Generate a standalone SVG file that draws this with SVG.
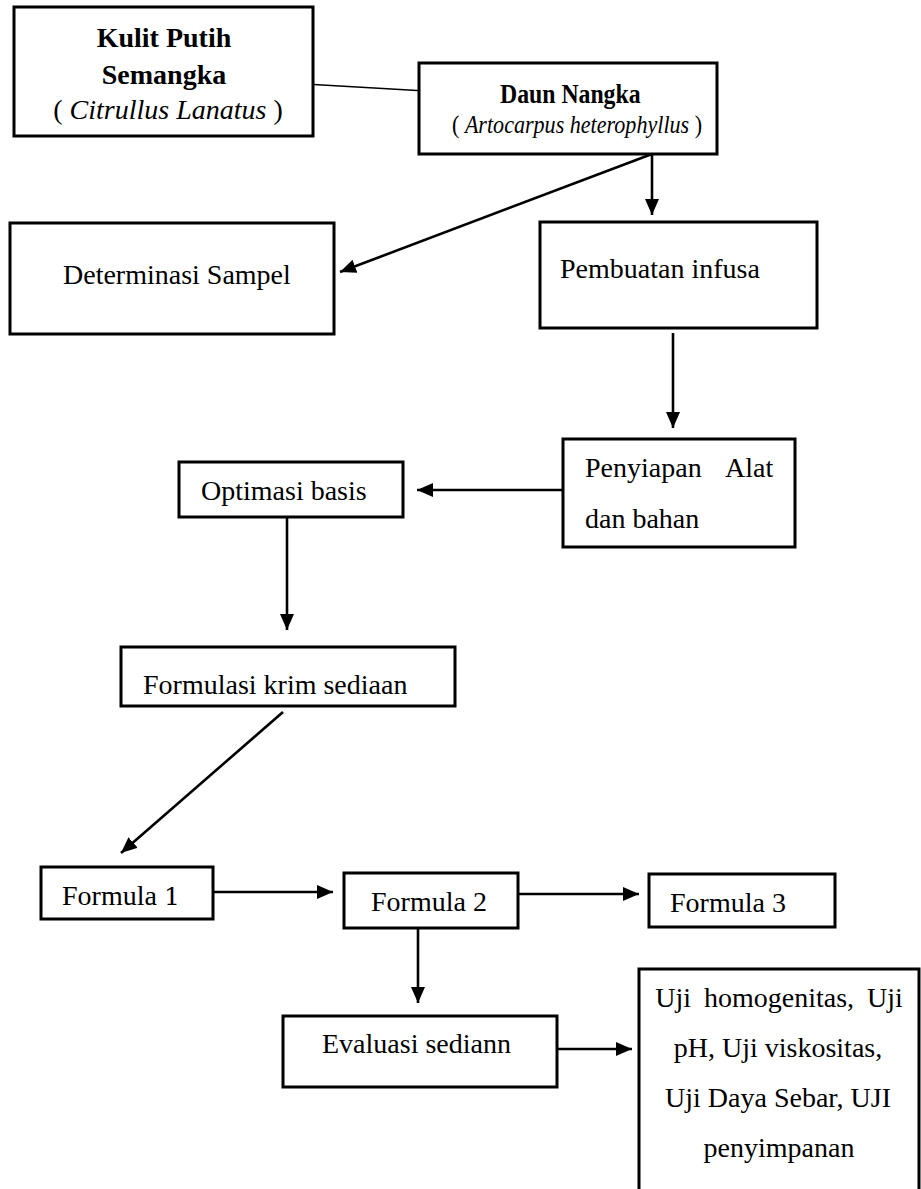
<svg xmlns="http://www.w3.org/2000/svg" width="921" height="1189" viewBox="0 0 921 1189">
<style>
.box{fill:#fff;stroke:#000;stroke-width:3}
.t{font-family:"Liberation Serif","Times New Roman",serif;font-size:28px;fill:#000}
.b{font-weight:bold}
.i{font-style:italic}
.c{text-anchor:middle}
.ln{stroke:#000;stroke-width:2.6;fill:none}
.thin{stroke:#000;stroke-width:1.3;fill:none}
</style>
<defs>
<marker id="ah" viewBox="0 0 16 14" refX="16" refY="7" markerWidth="16" markerHeight="14" markerUnits="userSpaceOnUse" orient="auto">
<path d="M0,0 L16,7 L0,14 Z" fill="#000"/>
</marker>
</defs>
<rect width="921" height="1189" fill="#fff"/>
<g id="connectors">
<line class="thin" x1="305" y1="84" x2="426" y2="91"/>
<line class="ln" x1="652" y1="154" x2="652" y2="215" marker-end="url(#ah)"/>
<line class="ln" x1="652" y1="154" x2="340" y2="272" marker-end="url(#ah)"/>
<line class="ln" x1="673" y1="333" x2="673" y2="428" marker-end="url(#ah)"/>
<line class="ln" x1="563" y1="490" x2="417" y2="490" marker-end="url(#ah)"/>
<line class="ln" x1="287" y1="517" x2="287" y2="630" marker-end="url(#ah)"/>
<line class="ln" x1="283" y1="712" x2="121" y2="853" marker-end="url(#ah)"/>
<line class="ln" x1="213" y1="892" x2="333" y2="892" marker-end="url(#ah)"/>
<line class="ln" x1="518" y1="894" x2="639" y2="894" marker-end="url(#ah)"/>
<line class="ln" x1="418" y1="928" x2="418" y2="1003" marker-end="url(#ah)"/>
<line class="ln" x1="557" y1="1049" x2="632" y2="1049" marker-end="url(#ah)"/>
</g>
<g id="kulit">
<rect class="box" x="14" y="7" width="299" height="129"/>
<text class="t b c" x="164" y="47">Kulit Putih</text>
<text class="t b c" x="164" y="84">Semangka</text>
<text class="t c" x="168" y="119">( <tspan class="i">Citrullus Lanatus</tspan> )</text>
</g>
<g id="daun">
<rect class="box" x="419" y="63" width="298" height="91"/>
<text class="t b" transform="translate(500,103) scale(0.88,1)" style="font-size:27px">Daun Nangka</text>
<text class="t" transform="translate(452,133) scale(0.85,1)" style="font-size:26px">( <tspan class="i">Artocarpus heterophyllus</tspan> )</text>
</g>
<g id="determinasi">
<rect class="box" x="10" y="223" width="324" height="111"/>
<text class="t" x="63" y="284">Determinasi Sampel</text>
</g>
<g id="pembuatan">
<rect class="box" x="540" y="222" width="277" height="106"/>
<text class="t" x="560" y="278">Pembuatan infusa</text>
</g>
<g id="penyiapan">
<rect class="box" x="563" y="439" width="232" height="108"/>
<text class="t" x="585" y="477">Penyiapan</text>
<text class="t" x="725" y="477">Alat</text>
<text class="t" x="585" y="528">dan bahan</text>
</g>
<g id="optimasi">
<rect class="box" x="179" y="462" width="224" height="55"/>
<text class="t" x="201" y="500">Optimasi basis</text>
</g>
<g id="formulasi">
<rect class="box" x="121" y="647" width="334" height="59"/>
<text class="t" x="143" y="694">Formulasi krim sediaan</text>
</g>
<g id="formula1">
<rect class="box" x="41" y="867" width="172" height="52"/>
<text class="t" x="62" y="905">Formula <tspan style="font-family:'DejaVu Serif',serif;font-size:25px">1</tspan></text>
</g>
<g id="formula2">
<rect class="box" x="344" y="873" width="174" height="55"/>
<text class="t" x="371" y="911">Formula 2</text>
</g>
<g id="formula3">
<rect class="box" x="649" y="874" width="186" height="53"/>
<text class="t" x="670" y="912">Formula 3</text>
</g>
<g id="evaluasi">
<rect class="box" x="283" y="1016" width="274" height="71"/>
<text class="t" x="322" y="1053">Evaluasi sediann</text>
</g>
<g id="uji">
<rect class="box" x="639" y="969" width="280" height="240"/>
<text class="t c" x="779" y="1007" word-spacing="6">Uji homogenitas, Uji</text>
<text class="t c" x="778" y="1057">pH, Uji viskositas,</text>
<text class="t c" x="778" y="1107">Uji Daya Sebar, UJI</text>
<text class="t c" x="779" y="1157">penyimpanan</text>
</g>
</svg>
